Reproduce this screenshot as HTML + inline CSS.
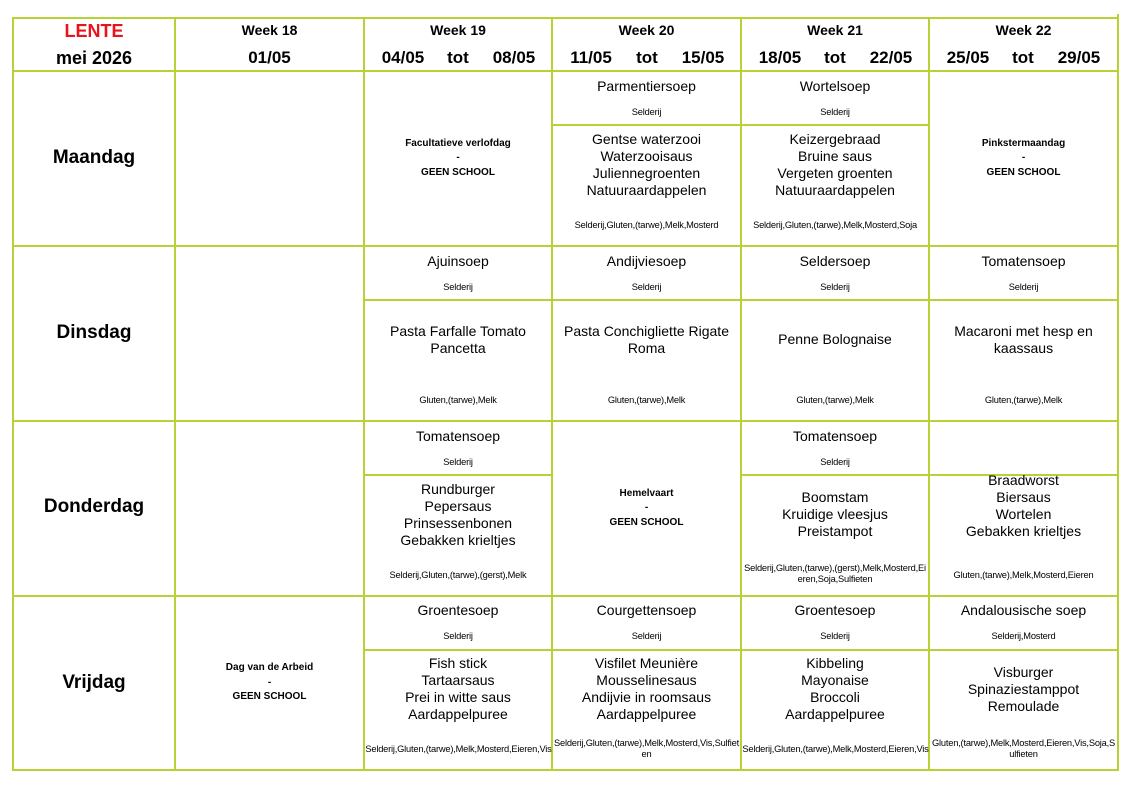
<!DOCTYPE html>
<html><head><meta charset="utf-8"><style>
body{margin:0;width:1134px;height:785px;background:#fff;font-family:"Liberation Sans",Arial,sans-serif;color:#000;position:relative;overflow:hidden}
.b{position:absolute;background:#b5d334}
.t{position:absolute;text-align:center;white-space:nowrap}
.c{position:absolute;display:flex;flex-direction:column;justify-content:center;align-items:center;text-align:center}
.m{font-size:14px;line-height:17px}
.a{font-size:9.3px;line-height:11px;letter-spacing:-0.2px;word-break:break-all}
.h{font-size:10px;font-weight:bold;line-height:14.5px}
</style></head><body>
<div class="b" style="left:13px;top:17px;width:1106px;height:2px"></div>
<div class="b" style="left:13px;top:70px;width:1106px;height:2px"></div>
<div class="b" style="left:13px;top:245px;width:1106px;height:2px"></div>
<div class="b" style="left:13px;top:420px;width:1106px;height:2px"></div>
<div class="b" style="left:13px;top:595px;width:1106px;height:2px"></div>
<div class="b" style="left:13px;top:769px;width:1106px;height:2px"></div>
<div class="b" style="left:12px;top:17px;width:2px;height:754px"></div>
<div class="b" style="left:174px;top:17px;width:2px;height:754px"></div>
<div class="b" style="left:363px;top:17px;width:2px;height:754px"></div>
<div class="b" style="left:551px;top:17px;width:2px;height:754px"></div>
<div class="b" style="left:740px;top:17px;width:2px;height:754px"></div>
<div class="b" style="left:928px;top:17px;width:2px;height:754px"></div>
<div class="b" style="left:1117px;top:14px;width:2px;height:757px"></div>
<div class="b" style="left:552px;top:124px;width:378px;height:2px"></div>
<div class="b" style="left:364px;top:299px;width:755px;height:2px"></div>
<div class="b" style="left:364px;top:474px;width:189px;height:2px"></div>
<div class="b" style="left:741px;top:474px;width:378px;height:2px"></div>
<div class="b" style="left:364px;top:649px;width:755px;height:2px"></div>

<div class="t" style="left:13px;width:162px;top:21px;font-size:18px;font-weight:bold;color:#e8141b">LENTE</div>
<div class="t" style="left:13px;width:162px;top:48px;font-size:18px;font-weight:bold">mei 2026</div>
<div class="t" style="left:175px;width:189px;top:22px;font-size:14px;font-weight:bold">Week 18</div>
<div class="t" style="left:175px;width:189px;top:48px;font-size:17px;font-weight:bold">01/05</div>
<div class="t" style="left:364px;width:188px;top:22px;font-size:14px;font-weight:bold">Week 19</div>
<div class="t" style="left:552px;width:189px;top:22px;font-size:14px;font-weight:bold">Week 20</div>
<div class="t" style="left:741px;width:188px;top:22px;font-size:14px;font-weight:bold">Week 21</div>
<div class="t" style="left:929px;width:189px;top:22px;font-size:14px;font-weight:bold">Week 22</div>
<div class="t" style="left:353px;width:100px;top:48px;font-size:17px;font-weight:bold">04/05</div>
<div class="t" style="left:408px;width:100px;top:48px;font-size:17px;font-weight:bold">tot</div>
<div class="t" style="left:464px;width:100px;top:48px;font-size:17px;font-weight:bold">08/05</div>
<div class="t" style="left:541px;width:100px;top:48px;font-size:17px;font-weight:bold">11/05</div>
<div class="t" style="left:597px;width:100px;top:48px;font-size:17px;font-weight:bold">tot</div>
<div class="t" style="left:653px;width:100px;top:48px;font-size:17px;font-weight:bold">15/05</div>
<div class="t" style="left:730px;width:100px;top:48px;font-size:17px;font-weight:bold">18/05</div>
<div class="t" style="left:785px;width:100px;top:48px;font-size:17px;font-weight:bold">tot</div>
<div class="t" style="left:841px;width:100px;top:48px;font-size:17px;font-weight:bold">22/05</div>
<div class="t" style="left:918px;width:100px;top:48px;font-size:17px;font-weight:bold">25/05</div>
<div class="t" style="left:973px;width:100px;top:48px;font-size:17px;font-weight:bold">tot</div>
<div class="t" style="left:1029px;width:100px;top:48px;font-size:17px;font-weight:bold">29/05</div>

<div class="t" style="left:13px;width:162px;top:147px;font-size:19px;font-weight:bold">Maandag</div>
<div class="t" style="left:13px;width:162px;top:322px;font-size:19px;font-weight:bold">Dinsdag</div>
<div class="t" style="left:13px;width:162px;top:496px;font-size:19px;font-weight:bold">Donderdag</div>
<div class="t" style="left:13px;width:162px;top:672px;font-size:19px;font-weight:bold">Vrijdag</div>

<div class="c h" style="left:364px;width:188px;top:71px;height:175px">Facultatieve verlofdag<br>-<br>GEEN SCHOOL</div>
<div class="c h" style="left:929px;width:189px;top:71px;height:175px">Pinkstermaandag<br>-<br>GEEN SCHOOL</div>
<div class="c h" style="left:552px;width:189px;top:421px;height:175px">Hemelvaart<br>-<br>GEEN SCHOOL</div>
<div class="c h" style="left:175px;width:189px;top:596px;height:174px">Dag van de Arbeid<br>-<br>GEEN SCHOOL</div>

<div class="t m" style="left:552px;width:189px;top:78px">Parmentiersoep</div><div class="t a" style="left:552px;width:189px;top:107px">Selderij</div>
<div class="t m" style="left:741px;width:188px;top:78px">Wortelsoep</div><div class="t a" style="left:741px;width:188px;top:107px">Selderij</div>
<div class="t m" style="left:364px;width:188px;top:253px">Ajuinsoep</div><div class="t a" style="left:364px;width:188px;top:282px">Selderij</div>
<div class="t m" style="left:552px;width:189px;top:253px">Andijviesoep</div><div class="t a" style="left:552px;width:189px;top:282px">Selderij</div>
<div class="t m" style="left:741px;width:188px;top:253px">Seldersoep</div><div class="t a" style="left:741px;width:188px;top:282px">Selderij</div>
<div class="t m" style="left:929px;width:189px;top:253px">Tomatensoep</div><div class="t a" style="left:929px;width:189px;top:282px">Selderij</div>
<div class="t m" style="left:364px;width:188px;top:428px">Tomatensoep</div><div class="t a" style="left:364px;width:188px;top:457px">Selderij</div>
<div class="t m" style="left:741px;width:188px;top:428px">Tomatensoep</div><div class="t a" style="left:741px;width:188px;top:457px">Selderij</div>
<div class="t m" style="left:364px;width:188px;top:602px">Groentesoep</div><div class="t a" style="left:364px;width:188px;top:631px">Selderij</div>
<div class="t m" style="left:552px;width:189px;top:602px">Courgettensoep</div><div class="t a" style="left:552px;width:189px;top:631px">Selderij</div>
<div class="t m" style="left:741px;width:188px;top:602px">Groentesoep</div><div class="t a" style="left:741px;width:188px;top:631px">Selderij</div>
<div class="t m" style="left:929px;width:189px;top:602px">Andalousische soep</div><div class="t a" style="left:929px;width:189px;top:631px">Selderij,Mosterd</div>

<div class="c m" style="left:552px;width:189px;top:125px;height:79px">Gentse waterzooi<br>Waterzooisaus<br>Juliennegroenten<br>Natuuraardappelen</div>
<div class="c a" style="left:553px;width:187px;top:215px;height:20px">Selderij,Gluten,(tarwe),Melk,Mosterd</div>
<div class="c m" style="left:741px;width:188px;top:125px;height:79px">Keizergebraad<br>Bruine saus<br>Vergeten groenten<br>Natuuraardappelen</div>
<div class="c a" style="left:742px;width:186px;top:215px;height:20px">Selderij,Gluten,(tarwe),Melk,Mosterd,Soja</div>

<div class="c m" style="left:364px;width:188px;top:300px;height:79px">Pasta Farfalle Tomato<br>Pancetta</div>
<div class="c a" style="left:365px;width:186px;top:390px;height:20px">Gluten,(tarwe),Melk</div>
<div class="c m" style="left:552px;width:189px;top:300px;height:79px">Pasta Conchigliette Rigate<br>Roma</div>
<div class="c a" style="left:553px;width:187px;top:390px;height:20px">Gluten,(tarwe),Melk</div>
<div class="c m" style="left:741px;width:188px;top:300px;height:79px">Penne Bolognaise</div>
<div class="c a" style="left:742px;width:186px;top:390px;height:20px">Gluten,(tarwe),Melk</div>
<div class="c m" style="left:929px;width:189px;top:300px;height:79px">Macaroni met hesp en<br>kaassaus</div>
<div class="c a" style="left:930px;width:187px;top:390px;height:20px">Gluten,(tarwe),Melk</div>

<div class="c m" style="left:364px;width:188px;top:475px;height:79px">Rundburger<br>Pepersaus<br>Prinsessenbonen<br>Gebakken krieltjes</div>
<div class="c a" style="left:365px;width:186px;top:565px;height:20px">Selderij,Gluten,(tarwe),(gerst),Melk</div>
<div class="c m" style="left:741px;width:188px;top:475px;height:79px">Boomstam<br>Kruidige vleesjus<br>Preistampot</div>
<div class="c a" style="left:742px;width:186px;top:563px;height:22px">Selderij,Gluten,(tarwe),(gerst),Melk,Mosterd,Eieren,Soja,Sulfieten</div>
<div class="c m" style="left:929px;width:189px;top:466px;height:79px">Braadworst<br>Biersaus<br>Wortelen<br>Gebakken krieltjes</div>
<div class="c a" style="left:930px;width:187px;top:565px;height:20px">Gluten,(tarwe),Melk,Mosterd,Eieren</div>

<div class="c m" style="left:364px;width:188px;top:650px;height:78px">Fish stick<br>Tartaarsaus<br>Prei in witte saus<br>Aardappelpuree</div>
<div class="c a" style="left:364px;width:189px;top:739px;height:20px">Selderij,Gluten,(tarwe),Melk,Mosterd,Eieren,Vis</div>
<div class="c m" style="left:552px;width:189px;top:650px;height:78px">Visfilet Meunière<br>Mousselinesaus<br>Andijvie in roomsaus<br>Aardappelpuree</div>
<div class="c a" style="left:553px;width:187px;top:738px;height:22px">Selderij,Gluten,(tarwe),Melk,Mosterd,Vis,Sulfieten</div>
<div class="c m" style="left:741px;width:188px;top:650px;height:78px">Kibbeling<br>Mayonaise<br>Broccoli<br>Aardappelpuree</div>
<div class="c a" style="left:741px;width:189px;top:739px;height:20px">Selderij,Gluten,(tarwe),Melk,Mosterd,Eieren,Vis</div>
<div class="c m" style="left:929px;width:189px;top:650px;height:78px">Visburger<br>Spinaziestamppot<br>Remoulade</div>
<div class="c a" style="left:930px;width:187px;top:738px;height:22px">Gluten,(tarwe),Melk,Mosterd,Eieren,Vis,Soja,Sulfieten</div>
</body></html>
